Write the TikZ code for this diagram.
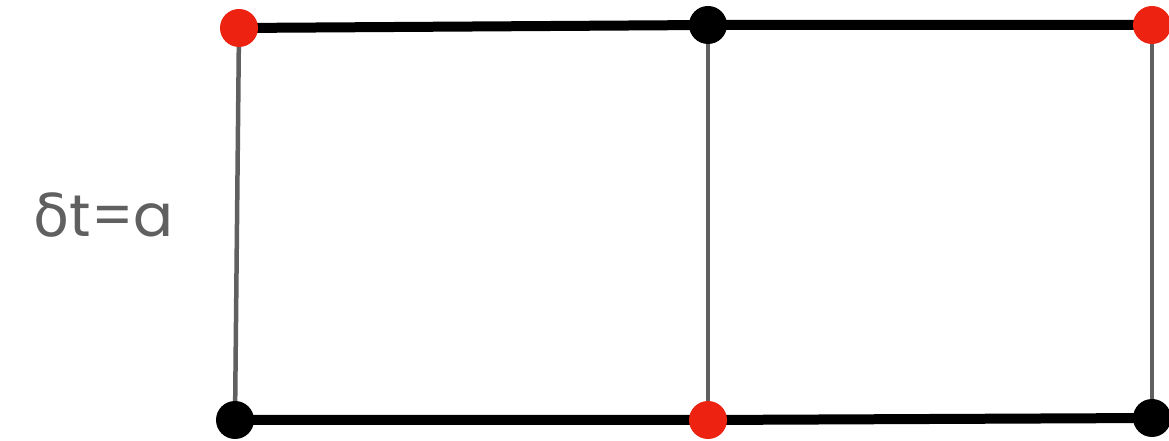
\documentclass[tikz,border=0pt]{standalone}
\usepackage{fontspec}
\setmainfont{Poppins}
\newfontfamily\greekfont{DejaVu Sans}
\usetikzlibrary{backgrounds}
\definecolor{dotred}{HTML}{EE2211}
\definecolor{rung}{HTML}{606060}
\begin{document}
\begin{tikzpicture}[x=1pt,y=1pt,
  dot/.style={circle,inner sep=0pt,minimum size=38pt,fill=#1},
  rail/.style={line width=10pt,black},
  rungline/.style={line width=4.5pt,rung}]
\useasboundingbox (0,0) rectangle (1169,441);
\node[dot=dotred] (tl) at (239,413) {};
\node[dot=black] (tm) at (708,416) {};
\node[dot=dotred] (tr) at (1152,416) {};
\node[dot=black] (bl) at (235,21) {};
\node[dot=dotred] (bm) at (708,21) {};
\node[dot=black] (br) at (1152,23) {};
\begin{pgfonlayer}{background}
\draw[rungline] (tl.center) -- (bl.center);
\draw[rungline] (tm.center) -- (bm.center);
\draw[rungline] (tr.center) -- (br.center);
\draw[rail] (tl.center) -- (tm.center) -- (tr.center);
\draw[rail] (bl.center) -- (bm.center) -- (br.center);
\end{pgfonlayer}
\node[anchor=base,text=rung,font=\fontsize{59}{63}\selectfont,inner sep=0pt] (lbl) at (103.5,204) {{\greekfont\fontsize{59}{63}\selectfont δ}t=a};
\end{tikzpicture}
\end{document}
